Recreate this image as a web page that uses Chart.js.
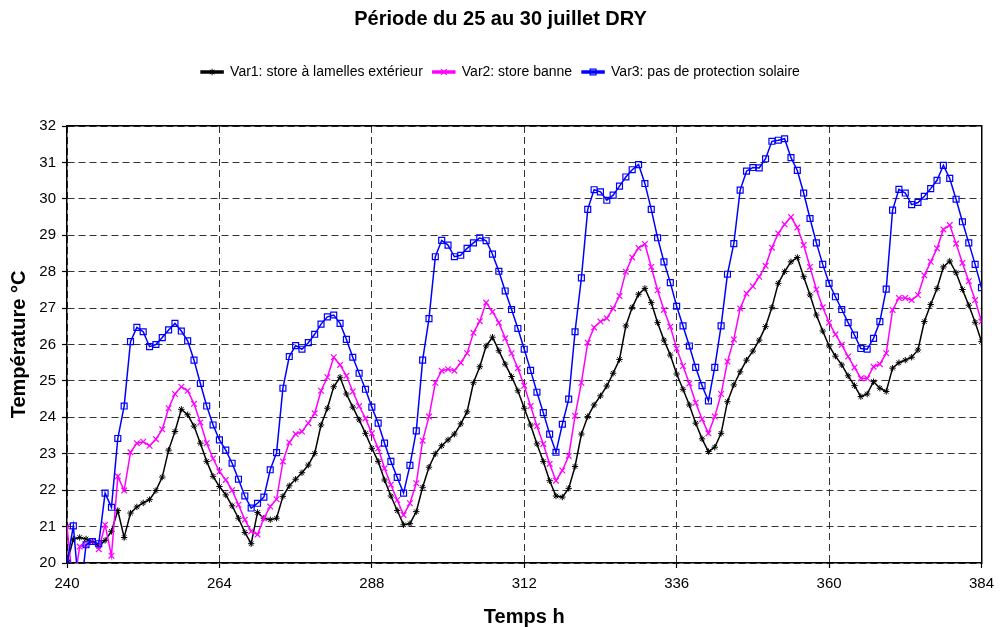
<!DOCTYPE html>
<html lang="fr">
<head>
<meta charset="utf-8">
<title>Période du 25 au 30 juillet DRY</title>
<script src="https://cdn.jsdelivr.net/npm/chart.js@4.4.1/dist/chart.umd.min.js"></script>
<style>
  html, body { margin: 0; padding: 0; background: #ffffff; }
  #chart { display: block; }
</style>
</head>
<body>
<canvas id="chart" width="1001" height="627"></canvas>
<script>
// heures 240 .. 384 (pas horaire)
const hours = Array.from({ length: 145 }, (_, i) => 240 + i);
const xTickValues = [240, 264, 288, 312, 336, 360, 384];
const yTickValues = [20, 21, 22, 23, 24, 25, 26, 27, 28, 29, 30, 31, 32];

const seriesLabels = [
  "Var1: store à lamelles extérieur",
  "Var2: store banne",
  "Var3: pas de protection solaire"
];

// Var1 : store à lamelles extérieur
const var1 = [
  20.0, 20.66, 20.7, 20.66, 20.59, 20.46, 20.62, 20.87, 21.44, 20.7,
  21.37, 21.54, 21.65, 21.74, 21.99, 22.36, 23.1, 23.61, 24.22, 24.07,
  23.76, 23.29, 22.79, 22.38, 22.1, 21.87, 21.57, 21.23, 20.84, 20.53,
  21.39, 21.23, 21.19, 21.23, 21.83, 22.12, 22.3, 22.48, 22.69, 23.01,
  23.79, 24.25, 24.84, 25.1, 24.64, 24.28, 23.93, 23.56, 23.15, 22.79,
  22.28, 21.84, 21.44, 21.05, 21.08, 21.41, 22.08, 22.63, 23.0, 23.22,
  23.38, 23.54, 23.82, 24.15, 24.95, 25.39, 25.96, 26.2, 25.83, 25.46,
  25.12, 24.73, 24.25, 23.79, 23.27, 22.79, 22.26, 21.84, 21.81, 22.05,
  22.65, 23.54, 24.02, 24.34, 24.59, 24.86, 25.21, 25.59, 26.51, 27.02,
  27.38, 27.54, 27.15, 26.6, 26.12, 25.71, 25.19, 24.77, 24.34, 23.84,
  23.41, 23.06, 23.18, 23.56, 24.43, 24.89, 25.25, 25.57, 25.82, 26.12,
  26.49, 27.02, 27.68, 28.0, 28.27, 28.39, 27.86, 27.36, 26.81, 26.37,
  25.96, 25.68, 25.44, 25.14, 24.87, 24.57, 24.64, 24.98, 24.8, 24.71,
  25.35, 25.5, 25.57, 25.65, 25.85, 26.63, 27.1, 27.54, 28.13, 28.29,
  27.97, 27.51, 27.08, 26.61, 26.08
];

// Var2 : store banne
const var2 = [
  21.0, 19.3, 20.45, 20.5, 20.59, 20.38, 21.05, 20.2, 22.38, 21.99,
  23.04, 23.29, 23.33, 23.22, 23.4, 23.67, 24.25, 24.64, 24.84, 24.73,
  24.37, 23.86, 23.29, 22.87, 22.51, 22.28, 22.0, 21.6, 21.19, 20.87,
  20.78, 21.23, 21.55, 21.75, 22.79, 23.31, 23.54, 23.61, 23.84, 24.11,
  24.73, 25.1, 25.65, 25.44, 25.14, 24.71, 24.31, 23.97, 23.56, 23.15,
  22.6, 22.15, 21.73, 21.32, 21.64, 22.19, 23.36, 24.02, 24.95, 25.28,
  25.32, 25.28, 25.5, 25.76, 26.32, 26.64, 27.15, 26.9, 26.6, 26.17,
  25.76, 25.35, 24.87, 24.31, 23.76, 23.27, 22.72, 22.26, 22.54, 22.94,
  24.04, 24.95, 26.05, 26.47, 26.63, 26.72, 26.99, 27.33, 28.0, 28.39,
  28.65, 28.76, 28.13, 27.49, 26.95, 26.49, 25.89, 25.41, 24.93, 24.4,
  23.95, 23.56, 24.02, 24.64, 25.53, 26.14, 26.99, 27.4, 27.6, 27.86,
  28.16, 28.66, 29.05, 29.3, 29.5, 29.21, 28.73, 28.13, 27.51, 27.02,
  26.6, 26.28, 25.99, 25.67, 25.37, 25.07, 25.07, 25.39, 25.46, 25.76,
  26.95, 27.28, 27.28, 27.22, 27.36, 27.9, 28.27, 28.64, 29.16, 29.28,
  28.77, 28.24, 27.74, 27.22, 26.63
];

// Var3 : pas de protection solaire
const var3 = [
  20.0, 21.02, 19.0, 20.5, 20.59, 20.53, 21.92, 21.53, 23.42, 24.31,
  26.08, 26.47, 26.35, 25.94, 26.0, 26.19, 26.4, 26.58, 26.37, 26.1,
  25.57, 24.93, 24.31, 23.79, 23.38, 23.1, 22.74, 22.3, 21.84, 21.51,
  21.64, 21.81, 22.56, 23.03, 24.8, 25.67, 25.97, 25.87, 26.05, 26.28,
  26.56, 26.76, 26.81, 26.58, 26.14, 25.65, 25.21, 24.77, 24.28, 23.84,
  23.29, 22.79, 22.35, 21.92, 22.68, 23.63, 25.57, 26.71, 28.41, 28.86,
  28.73, 28.41, 28.45, 28.64, 28.79, 28.93, 28.85, 28.48, 28.01, 27.47,
  26.96, 26.44, 25.87, 25.29, 24.69, 24.13, 23.54, 23.04, 23.81, 24.5,
  26.35, 27.83, 29.71, 30.25, 30.19, 29.96, 30.1, 30.35, 30.6, 30.8,
  30.94, 30.42, 29.71, 28.93, 28.27, 27.7, 27.05, 26.51, 25.96, 25.37,
  24.87, 24.45, 25.37, 26.51, 27.93, 28.77, 30.24, 30.76, 30.86, 30.85,
  31.1, 31.58, 31.61, 31.65, 31.13, 30.78, 30.16, 29.46, 28.79, 28.2,
  27.68, 27.31, 26.96, 26.6, 26.26, 25.89, 25.87, 26.17, 26.63, 27.52,
  29.69, 30.26, 30.16, 29.84, 29.9, 30.07, 30.28, 30.51, 30.92, 30.56,
  29.99, 29.37, 28.79, 28.2, 27.56
];

const toPoints = (values) => values.map((v, i) => ({ x: hours[i], y: v }));

Chart.defaults.font.family = "'Liberation Sans', Arial, sans-serif";
Chart.defaults.color = "#000000";

// petit marqueur au milieu des traits de la légende (comme Excel)
const legendMarkers = {
  id: "legendMarkers",
  afterDraw (chart) {
    const legend = chart.legend;
    if (!legend || !legend.legendHitBoxes || !Chart.helpers || !Chart.helpers.drawPoint) {
      return;
    }
    const ctx = chart.ctx;
    legend.legendHitBoxes.forEach((hb, i) => {
      const ds = chart.data.datasets[legend.legendItems[i].datasetIndex];
      ctx.save();
      ctx.strokeStyle = ds.borderColor;
      ctx.fillStyle = ds.pointBackgroundColor;
      ctx.lineWidth = ds.pointBorderWidth;
      Chart.helpers.drawPoint(ctx, {
        pointStyle: ds.pointStyle,
        radius: ds.pointRadius,
        rotation: 0,
        borderWidth: ds.pointBorderWidth
      }, hb.left + 11, hb.top + 7);
      ctx.restore();
    });
  }
};

const gridDash = [7, 4];

new Chart(document.getElementById("chart"), {
  type: "line",
  data: {
    datasets: [
      {
        label: seriesLabels[0],
        data: toPoints(var1),
        borderColor: "#000000",
        backgroundColor: "#000000",
        borderWidth: 1.5,
        pointStyle: "star",
        pointRadius: 3.2,
        pointBorderWidth: 1,
        pointBackgroundColor: "#000000",
        order: 2
      },
      {
        label: seriesLabels[1],
        data: toPoints(var2),
        borderColor: "#FF00FF",
        backgroundColor: "#FF00FF",
        borderWidth: 1.5,
        pointStyle: "crossRot",
        pointRadius: 4,
        pointBorderWidth: 1.2,
        pointBackgroundColor: "#FF00FF",
        order: 1
      },
      {
        label: seriesLabels[2],
        data: toPoints(var3),
        borderColor: "#0000FF",
        backgroundColor: "#0000FF",
        borderWidth: 1.5,
        pointStyle: "rect",
        pointRadius: 4.2,
        pointBorderWidth: 1.2,
        pointBackgroundColor: "rgba(255,255,255,0)",
        order: 0
      }
    ]
  },
  options: {
    responsive: false,
    devicePixelRatio: 1,
    animation: false,
    layout: { padding: 0 },
    plugins: {
      title: {
        display: true,
        text: "Période du 25 au 30 juillet DRY",
        color: "#000000",
        font: { size: 20, weight: "bold" },
        padding: { top: 7, bottom: 24 }
      },
      legend: {
        display: true,
        position: "top",
        labels: {
          color: "#000000",
          font: { size: 14 },
          boxWidth: 22,
          boxHeight: 2,
          padding: 10,
          sort: (a, b) => a.datasetIndex - b.datasetIndex
        }
      },
      tooltip: { enabled: false }
    },
    scales: {
      x: {
        type: "linear",
        position: "bottom",
        min: 240,
        max: 384,
        afterBuildTicks: (scale) => { scale.ticks = xTickValues.map((v) => ({ value: v })); },
        afterFit: (scale) => { scale.height = 64; },
        ticks: { font: { size: 15 }, color: "#000000", padding: 7, maxRotation: 0 },
        grid: { color: "#333333", lineWidth: 1, tickLength: 5, tickColor: "#000000", tickWidth: 1.2 },
        border: { display: true, color: "#000000", width: 1.5, dash: gridDash },
        title: {
          display: true,
          text: "Temps h",
          color: "#000000",
          font: { size: 20, weight: "bold", lineHeight: 1 },
          padding: { top: 0, bottom: 0 }
        }
      },
      y: {
        type: "linear",
        position: "left",
        min: 20,
        max: 32,
        afterBuildTicks: (scale) => { scale.ticks = yTickValues.map((v) => ({ value: v })); },
        afterFit: (scale) => { scale.width = 67; },
        ticks: { font: { size: 15 }, color: "#000000", padding: 6 },
        grid: { color: "#333333", lineWidth: 1, tickLength: 5, tickColor: "#000000", tickWidth: 1.2 },
        border: { display: true, color: "#000000", width: 1.5, dash: gridDash },
        title: {
          display: true,
          text: "Température °C",
          color: "#000000",
          font: { size: 20, weight: "bold", lineHeight: 1.2 },
          padding: { top: 7, bottom: 0 }
        }
      },
      // axes vides pour fermer le cadre en haut et à droite
      xTop: {
        type: "linear",
        position: "top",
        display: true,
        min: 240,
        max: 384,
        afterFit: (scale) => { scale.height = 37; },
        ticks: { display: false },
        grid: { display: false, drawTicks: false },
        border: { display: true, color: "#000000", width: 1.5 }
      },
      yRight: {
        type: "linear",
        position: "right",
        display: true,
        min: 20,
        max: 32,
        afterFit: (scale) => { scale.width = 16; },
        ticks: { display: false },
        grid: { display: false, drawTicks: false },
        border: { display: true, color: "#000000", width: 1.5 }
      }
    }
  },
  plugins: [legendMarkers]
});
</script>
</body>
</html>
